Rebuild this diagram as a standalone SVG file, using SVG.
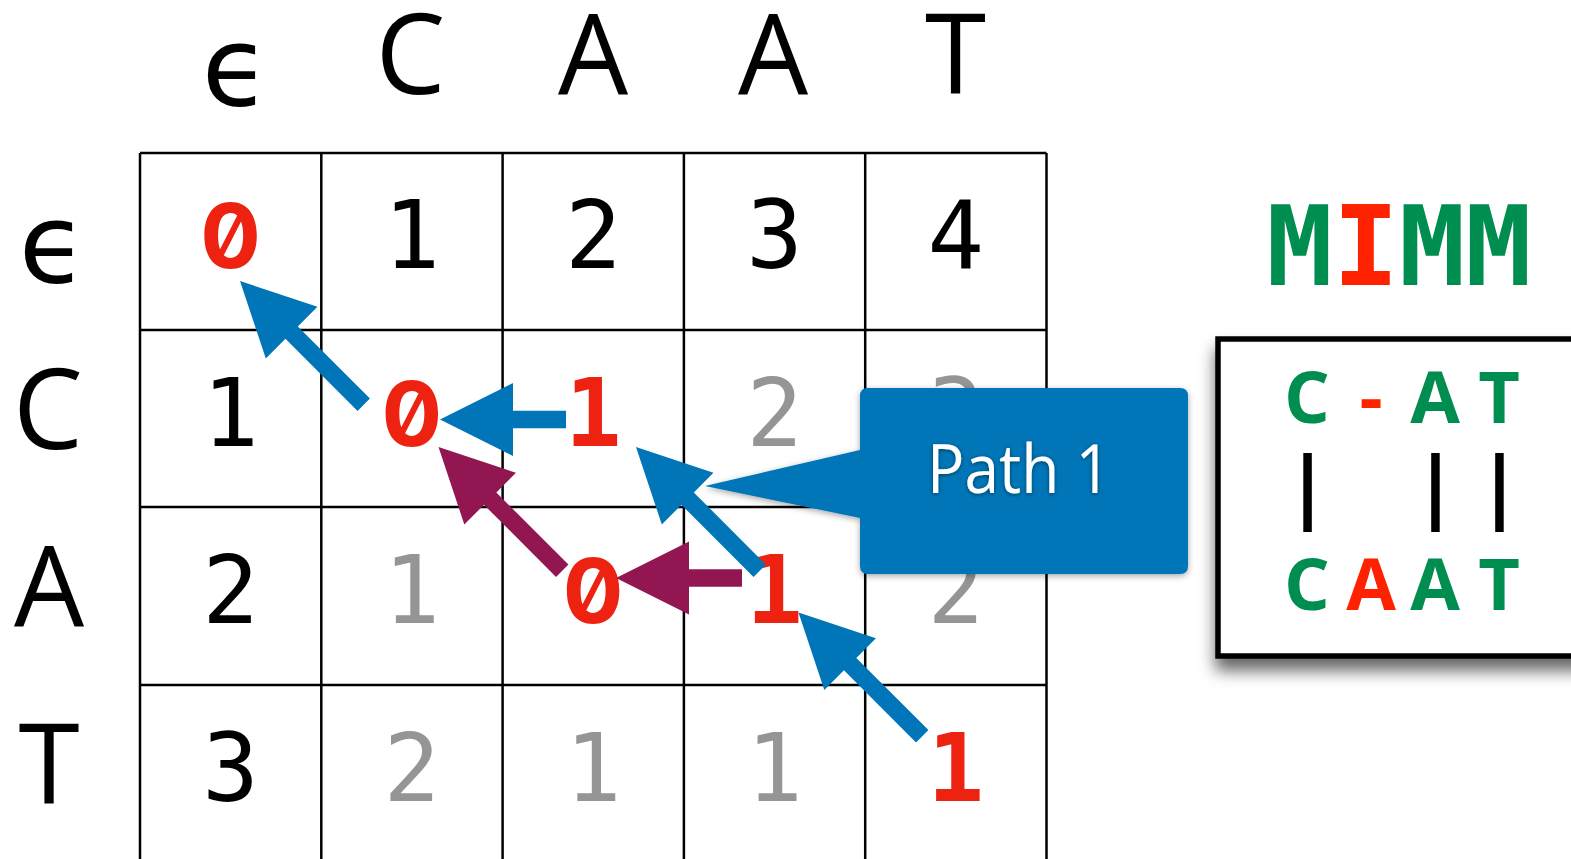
<svg xmlns="http://www.w3.org/2000/svg" width="1571" height="859" viewBox="0 0 1571 859">
<style>
.grid line{stroke:#000;stroke-width:2.5}
.hdr{font-family:"Open Sans","DejaVu Sans",sans-serif;font-size:111px;fill:#000;text-anchor:middle}
.num{font-family:"DejaVu Sans Mono","Liberation Mono",monospace;font-size:94px;text-anchor:middle}
.k{fill:#000}.g{fill:#959595}.r{fill:#EE2211;font-weight:700}
.z{font-family:Inter,"DejaVu Sans Mono",monospace;font-size:90px;font-variant-numeric:slashed-zero;font-feature-settings:"zero" 1}
.blue{fill:#0076B8}.pur{fill:#921652}
.aln{font-family:"Open Sans","DejaVu Sans",sans-serif;font-weight:700;font-size:72px;text-anchor:middle}
.gr{fill:#008E50}.rd{fill:#FF2200}
</style>
<defs>
<path id="adiag" d="M0,0 L73,-36.5 L73,-8.75 L175,-8.75 L175,8.75 L73,8.75 L73,36.5 Z"/>
<path id="ahor" d="M0,0 L73,-36.5 L73,-8.75 L126,-8.75 L126,8.75 L73,8.75 L73,36.5 Z"/>
<filter id="cshadow" x="-10%" y="-10%" width="120%" height="130%">
<feDropShadow dx="0" dy="2" stdDeviation="3" flood-color="#000" flood-opacity="0.35"/>
</filter>
<filter id="tshadow" x="-10%" y="-20%" width="120%" height="150%">
<feDropShadow dx="0" dy="1" stdDeviation="2" flood-color="#000" flood-opacity="0.5"/>
</filter>
<filter id="bshadow" x="-10%" y="-10%" width="130%" height="140%">
<feDropShadow dx="0" dy="12" stdDeviation="8" flood-color="#000" flood-opacity="0.6"/>
</filter>
</defs>
<rect width="1571" height="859" fill="#fff"/>

<g id="grid" class="grid">
<line x1="140" y1="153" x2="1046.5" y2="153"/>
<line x1="140" y1="330" x2="1046.5" y2="330"/>
<line x1="140" y1="507" x2="1046.5" y2="507"/>
<line x1="140" y1="685" x2="1046.5" y2="685"/>
<line x1="140" y1="153" x2="140" y2="859"/>
<line x1="321.3" y1="153" x2="321.3" y2="859"/>
<line x1="502.6" y1="153" x2="502.6" y2="859"/>
<line x1="683.9" y1="153" x2="683.9" y2="859"/>
<line x1="865.2" y1="153" x2="865.2" y2="859"/>
<line x1="1046.5" y1="153" x2="1046.5" y2="859"/>
</g>

<g id="col-headers" class="hdr">
<text x="236" y="105">ϵ</text>
<text x="410.5" y="94">C</text>
<text x="593" y="94">A</text>
<text x="773" y="94">A</text>
<text x="955.5" y="94">T</text>
</g>
<g id="row-headers" class="hdr">
<text x="53" y="282">ϵ</text>
<text x="48" y="449">C</text>
<text x="49" y="626">A</text>
<text x="49" y="804">T</text>
</g>

<g id="cells" class="num">
<text x="230.6" y="268" class="r z">0</text>
<text x="411.9" y="268" class="k">1</text>
<text x="593.2" y="268" class="k">2</text>
<text x="774.5" y="268" class="k">3</text>
<text x="955.8" y="268" class="k">4</text>
<text x="230.6" y="445.5" class="k">1</text>
<text x="411.9" y="445.5" class="r z">0</text>
<text x="593.2" y="445.5" class="r">1</text>
<text x="774.5" y="445.5" class="g">2</text>
<text x="955.8" y="445.5" class="g">3</text>
<text x="230.6" y="623" class="k">2</text>
<text x="411.9" y="623" class="g">1</text>
<text x="593.2" y="623" class="r z">0</text>
<text x="774.5" y="623" class="r">1</text>
<text x="955.8" y="623" class="g">2</text>
<text x="230.6" y="800.5" class="k">3</text>
<text x="411.9" y="800.5" class="g">2</text>
<text x="593.2" y="800.5" class="g">1</text>
<text x="774.5" y="800.5" class="g">1</text>
<text x="955.8" y="800.5" class="r">1</text>
</g>

<g id="connectors">
<use href="#adiag" class="blue" transform="translate(240,281) rotate(45)"/>
<use href="#ahor" class="blue" transform="translate(440,419.5)"/>
<use href="#adiag" class="blue" transform="translate(636,447) rotate(45)"/>
<use href="#adiag" class="pur" transform="translate(438.5,447) rotate(45)"/>
<use href="#ahor" class="pur" transform="translate(616,578)"/>
<use href="#adiag" class="blue" transform="translate(798.5,612.5) rotate(45)"/>
</g>

<g id="callout">
<path filter="url(#cshadow)" fill="#0076B8" d="M868,388 H1180 Q1188,388 1188,396 V566 Q1188,574 1180,574 H868 Q860,574 860,566 V518 L705,486 L860,450 V396 Q860,388 868,388 Z"/>
<text x="927" y="493" textLength="184" lengthAdjust="spacingAndGlyphs" filter="url(#tshadow)" style="font-family:'Open Sans','DejaVu Sans',sans-serif;font-size:68px;fill:#fff">Path 1</text>
</g>

<g id="ops">
<text x="1399" y="285" style="font-family:'DejaVu Sans Mono',monospace;font-weight:700;font-size:110px;text-anchor:middle"><tspan class="gr">M</tspan><tspan class="rd">I</tspan><tspan class="gr">MM</tspan></text>
</g>

<g id="alignment">
<rect x="1218" y="339" width="420" height="317" fill="#fff" stroke="#000" stroke-width="5.5" filter="url(#bshadow)"/>
<text class="aln" y="423"><tspan x="1307" class="gr">C</tspan><tspan x="1371" class="rd">-</tspan><tspan x="1435" class="gr">A</tspan><tspan x="1499" class="gr">T</tspan></text>
<rect x="1303.3" y="453" width="8.5" height="79" fill="#000"/>
<rect x="1431.2" y="453" width="8.5" height="79" fill="#000"/>
<rect x="1495.2" y="453" width="8.5" height="79" fill="#000"/>
<text class="aln" y="610"><tspan x="1307" class="gr">C</tspan><tspan x="1371" class="rd">A</tspan><tspan x="1435" class="gr">A</tspan><tspan x="1499" class="gr">T</tspan></text>
</g>
</svg>
